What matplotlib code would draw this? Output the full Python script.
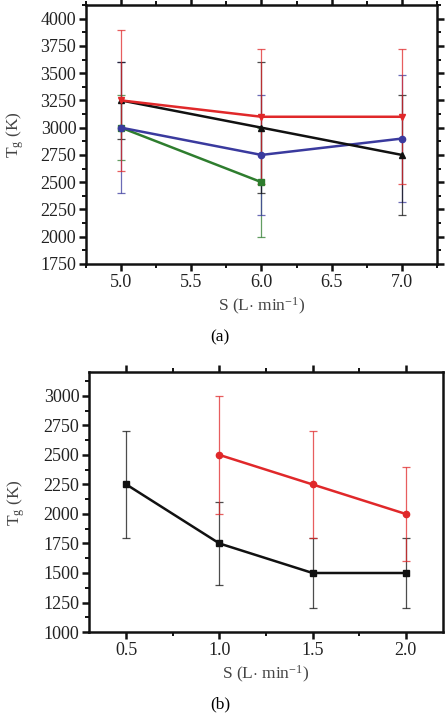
import matplotlib
matplotlib.use("Agg")
import matplotlib.pyplot as plt
from matplotlib.ticker import MultipleLocator

plt.rcParams['font.family'] = ['Liberation Serif', 'DejaVu Serif']
plt.rcParams['mathtext.fontset'] = 'custom'
plt.rcParams['mathtext.rm'] = 'Liberation Serif'
plt.rcParams['mathtext.it'] = 'Liberation Serif'

# ---- Panel (a) data ----
a_x = [5.0, 6.0, 7.0]
a_green_x = [5.0, 6.0]
a_green = [3000, 2500]
a_green_err = [300, 500]
a_blue = [3000, 2750, 2900]
a_blue_err = [600, 550, 580]
a_black = [3250, 3000, 2750]
a_black_err = [350, 600, 550]
a_red = [3250, 3100, 3100]
a_red_err = [650, 620, 620]

# ---- Panel (b) data ----
b_black_x = [0.5, 1.0, 1.5, 2.0]
b_black = [2250, 1750, 1500, 1500]
b_black_err = [450, 350, 300, 300]
b_red_x = [1.0, 1.5, 2.0]
b_red = [2500, 2250, 2000]
b_red_err = [500, 450, 400]

RED = '#e0282a'
BLACK = '#111111'
BLUE = '#3a3a9e'
GREEN = '#2e7d2e'

fig = plt.figure(figsize=(4.46, 7.14), dpi=100)
ax1 = fig.add_axes([0.1928, 0.6303, 0.787, 0.3627])
ax2 = fig.add_axes([0.1996, 0.1148, 0.7937, 0.3638])

def series(ax, x, y, e, color, marker, ms=5):
    eb = ax.errorbar(x, y, yerr=e, color=color, marker=marker, ms=ms, lw=1.8,
                     elinewidth=0.9, capsize=3, capthick=0.9, ecolor=color)
    for c in eb[1]:
        c.set_alpha(0.75)
    for c in eb[2]:
        c.set_alpha(0.75)

series(ax1, a_green_x, a_green, a_green_err, GREEN, 's', 4.5)
series(ax1, a_x, a_blue, a_blue_err, BLUE, 'o', 4.5)
series(ax1, a_x, a_black, a_black_err, BLACK, '^', 5)
series(ax1, a_x, a_red, a_red_err, RED, 'v', 5)

series(ax2, b_black_x, b_black, b_black_err, BLACK, 's', 4.5)
series(ax2, b_red_x, b_red, b_red_err, RED, 'o', 4.5)

ax1.set_xlim(4.75, 7.25)
ax1.set_ylim(1750, 4125)
ax1.xaxis.set_minor_locator(MultipleLocator(0.25))
ax1.yaxis.set_minor_locator(MultipleLocator(125))
ax1.set_xticks([5.0, 5.5, 6.0, 6.5, 7.0])
ax1.set_xticklabels(['5.0', '5.5', '6.0', '6.5', '7.0'])
ax1.set_yticks([1750, 2000, 2250, 2500, 2750, 3000, 3250, 3500, 3750, 4000])

ax2.set_xlim(0.3, 2.2)
ax2.set_ylim(1000, 3200)
ax2.xaxis.set_minor_locator(MultipleLocator(0.25))
ax2.yaxis.set_minor_locator(MultipleLocator(125))
ax2.set_xticks([0.5, 1.0, 1.5, 2.0])
ax2.set_xticklabels(['0.5', '1.0', '1.5', '2.0'])
ax2.set_yticks([1000, 1250, 1500, 1750, 2000, 2250, 2500, 2750, 3000])

for ax, right in ((ax1, True), (ax2, False)):
    for s in ax.spines.values():
        s.set_linewidth(1.8)
        s.set_color('#111111')
    ax.tick_params(which='both', direction='out', top=True, right=right,
                   labelsize=13, color='#111111', labelcolor='#222222')
    ax.tick_params(which='major', length=5, width=1.8, pad=2)
    ax.tick_params(which='minor', length=3, width=1.4)
    ax.set_ylabel(r'T$_\mathrm{g}$ (K)', fontsize=12.5, color='#444444')
    ax.set_xlabel(r'S (L$\cdot$ min$^{-1}$)', fontsize=12.5, color='#444444', labelpad=4)

ax1.yaxis.set_label_coords(-0.17, 0.5)
ax2.yaxis.set_label_coords(-0.175, 0.5)

fig.text(220/446, 1 - 337/714, '(a)', ha='center', va='center', fontsize=12.5)
fig.text(220/446, 1 - 704/714, '(b)', ha='center', va='center', fontsize=12.5)

fig.savefig('out.png', dpi=100)
